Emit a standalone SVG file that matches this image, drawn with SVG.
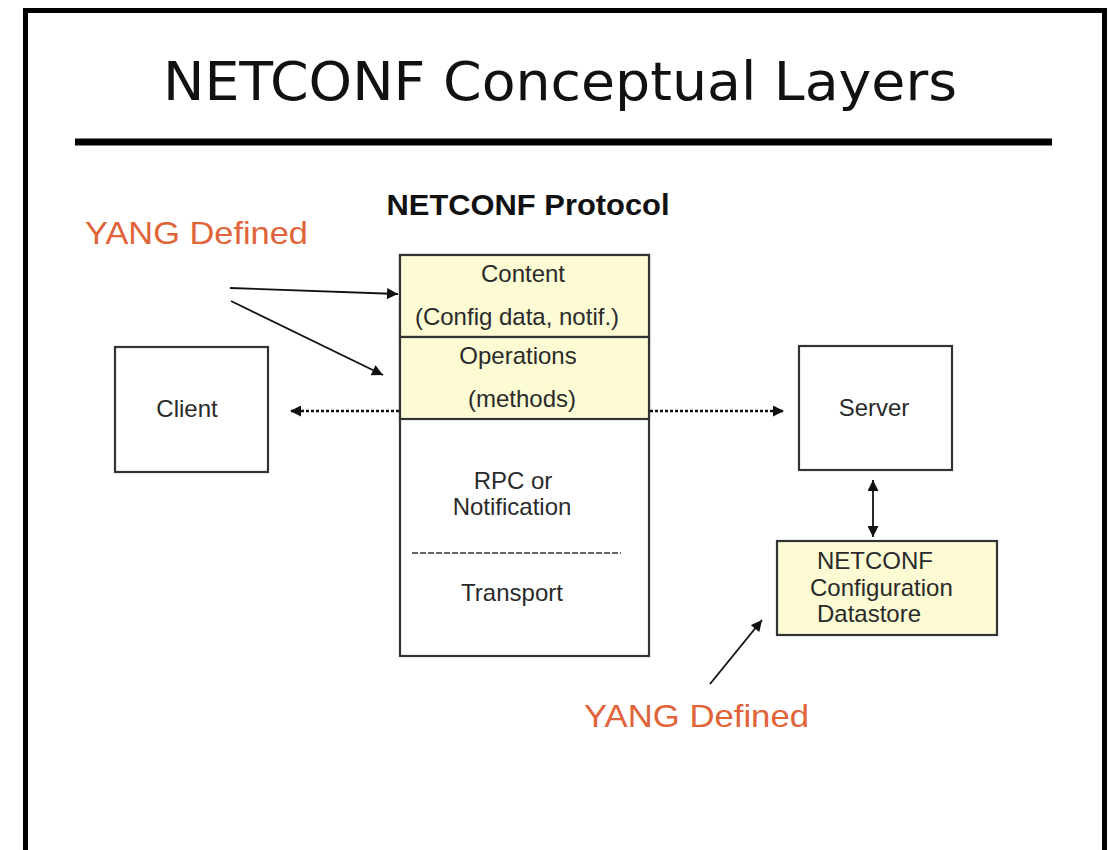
<svg xmlns="http://www.w3.org/2000/svg" width="1110" height="850" viewBox="0 0 1110 850">
<defs>
<style>
.box{fill:#ffffff;stroke:#333333;stroke-width:2.2}
.yel{fill:#fdfbd3;stroke:#333333;stroke-width:2.2}
.t{font-family:"Liberation Sans",Arial,sans-serif;font-size:24px;fill:#2a2a2a;text-anchor:middle}
.yang{font-family:"Liberation Sans",Arial,sans-serif;font-size:32px;fill:#e0633a}
.arr{stroke:#111111;stroke-width:1.8;fill:none}
.dot{stroke:#111111;stroke-width:2.6;fill:none;stroke-dasharray:3 2}
</style>
<marker id="ah" viewBox="0 0 10 10" refX="10" refY="5" markerWidth="12" markerHeight="11" markerUnits="userSpaceOnUse" orient="auto-start-reverse">
<path d="M0,0 L10,5 L0,10 z" fill="#111111"/>
</marker>
</defs>
<rect x="0" y="0" width="1110" height="850" fill="#ffffff"/>
<rect x="25.5" y="10.5" width="1079" height="845" fill="none" stroke="#000000" stroke-width="5"/>
<text x="560" y="100" font-family="DejaVu Sans,Verdana,sans-serif" font-size="54" fill="#111111" text-anchor="middle" textLength="794" lengthAdjust="spacingAndGlyphs">NETCONF Conceptual Layers</text>
<rect x="75" y="138.5" width="977" height="7" fill="#000000"/>
<text x="528" y="215" font-family="Liberation Sans,Arial,sans-serif" font-size="30" font-weight="bold" fill="#111111" text-anchor="middle" textLength="283" lengthAdjust="spacingAndGlyphs">NETCONF Protocol</text>
<text class="yang" x="85" y="244" textLength="223" lengthAdjust="spacingAndGlyphs">YANG Defined</text>
<text class="yang" x="584" y="727" textLength="225" lengthAdjust="spacingAndGlyphs">YANG Defined</text>

<g id="protocol">
<rect class="box" x="400" y="255" width="249" height="401"/>
<rect class="yel" x="400" y="255" width="249" height="82"/>
<rect class="yel" x="400" y="337" width="249" height="82"/>
<text class="t" x="523" y="282">Content</text>
<text class="t" x="517" y="325">(Config data, notif.)</text>
<text class="t" x="518" y="364">Operations</text>
<text class="t" x="522" y="407">(methods)</text>
<text class="t" x="513" y="489">RPC or</text>
<text class="t" x="512" y="515">Notification</text>
<line x1="412" y1="553" x2="621" y2="553" stroke="#333333" stroke-width="1.5" stroke-dasharray="6 2"/>
<text class="t" x="512" y="601">Transport</text>
</g>

<g id="client">
<rect class="box" x="115" y="347" width="153" height="125"/>
<text class="t" x="187" y="417">Client</text>
</g>

<g id="server">
<rect class="box" x="799" y="346" width="153" height="124"/>
<text class="t" x="874" y="416">Server</text>
</g>

<g id="datastore">
<rect class="yel" x="777" y="541" width="220" height="94"/>
<text class="t" x="817" y="569" style="text-anchor:start">NETCONF</text>
<text class="t" x="810" y="596" style="text-anchor:start">Configuration</text>
<text class="t" x="817" y="622" style="text-anchor:start">Datastore</text>
</g>

<g id="connectors">
<line class="arr" x1="230" y1="288" x2="398" y2="294" marker-end="url(#ah)"/>
<line class="arr" x1="231" y1="301" x2="383" y2="375" marker-end="url(#ah)"/>
<line class="dot" x1="399" y1="411" x2="290" y2="411" marker-end="url(#ah)"/>
<line class="dot" x1="650" y1="411" x2="784" y2="411" marker-end="url(#ah)"/>
<line class="arr" x1="873" y1="480" x2="873" y2="537" marker-start="url(#ah)" marker-end="url(#ah)"/>
<line class="arr" x1="710" y1="684" x2="762" y2="620" marker-end="url(#ah)"/>
</g>
</svg>
